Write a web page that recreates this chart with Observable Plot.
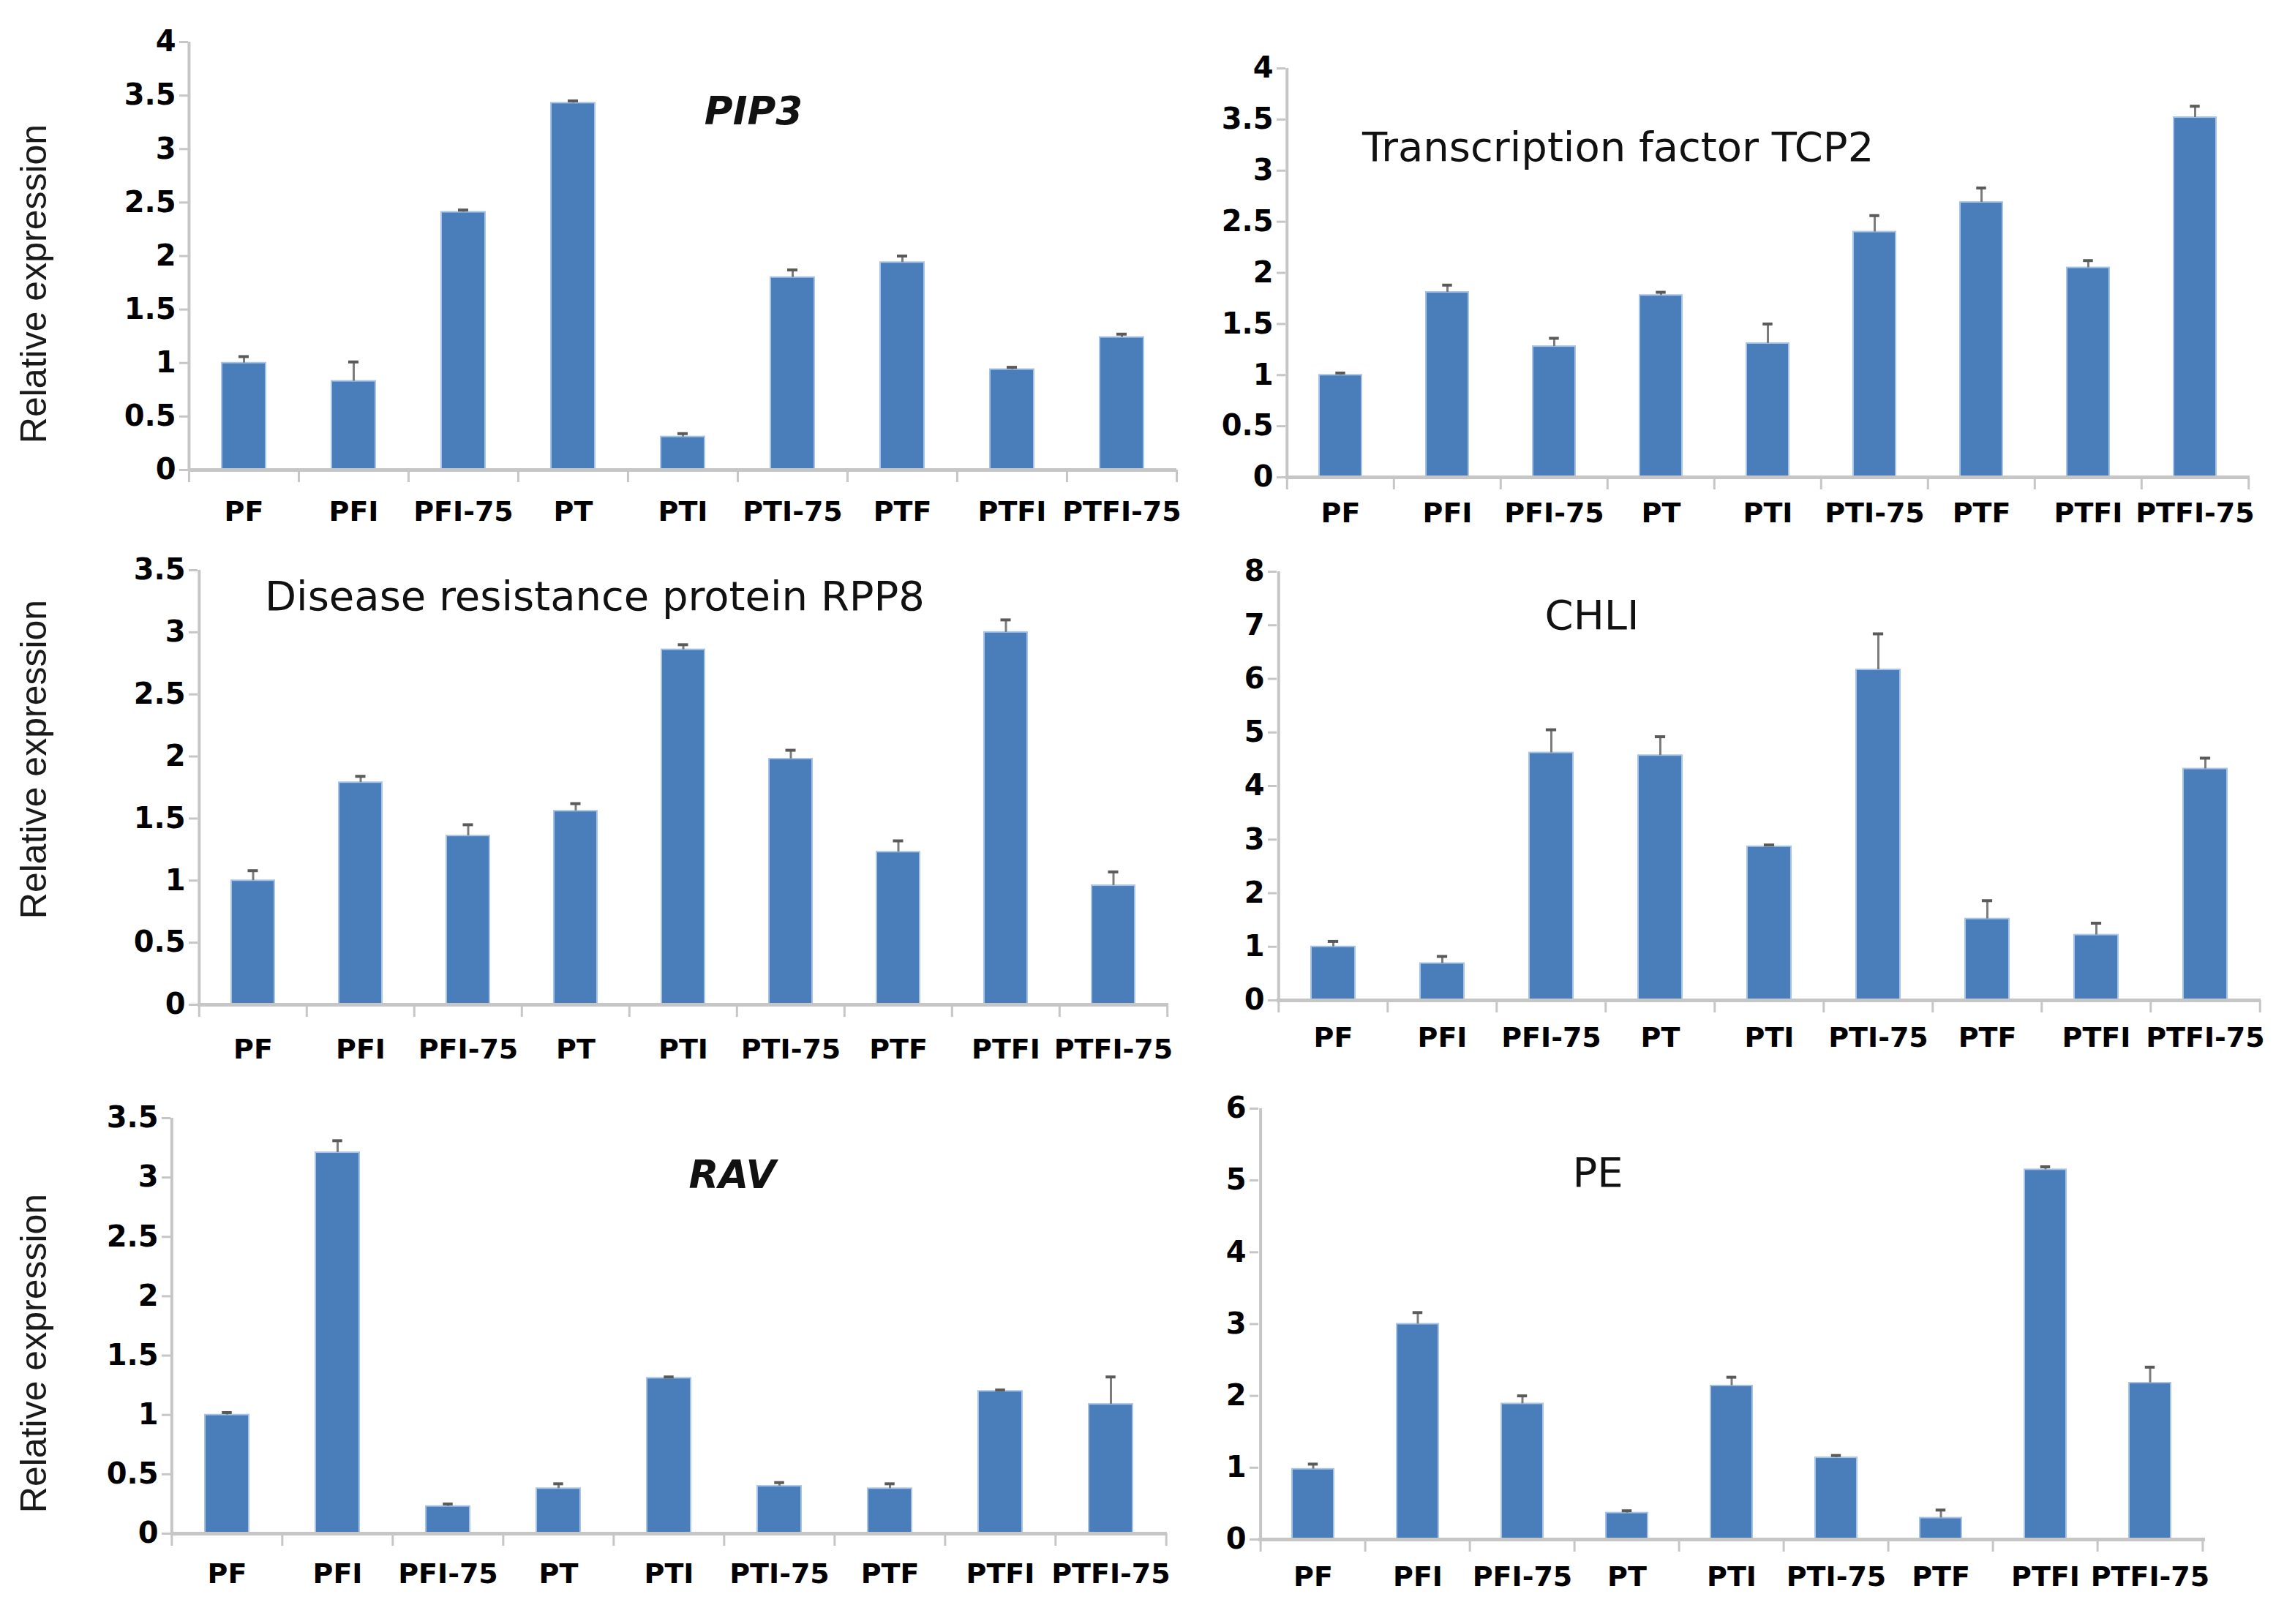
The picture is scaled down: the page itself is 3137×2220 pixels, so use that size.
<!DOCTYPE html>
<html><head><meta charset="utf-8">
<script src="https://cdn.jsdelivr.net/npm/d3@7"></script>
<script src="https://cdn.jsdelivr.net/npm/@observablehq/plot@0.6"></script>
<style>
html,body{margin:0;padding:0;background:#fff;}
#wrap{position:relative;width:3137px;height:2220px;overflow:hidden;background:#fff;}
.panel{position:absolute;}
#overlay{position:absolute;left:0;top:0;}
</style></head><body><div id="wrap"></div>
<script>
// ---- data ----
const categories = ["PF","PFI","PFI-75","PT","PTI","PTI-75","PTF","PTFI","PTFI-75"];

const pip3    = [1.00, 0.83, 2.41, 3.43, 0.31, 1.80, 1.94, 0.94, 1.24];
const pip3Err = [0.06, 0.18, 0.02, 0.02, 0.03, 0.07, 0.06, 0.02, 0.03];

const tcp2    = [1.00, 1.81, 1.28, 1.78, 1.31, 2.40, 2.69, 2.05, 3.52];
const tcp2Err = [0.02, 0.07, 0.08, 0.03, 0.19, 0.16, 0.14, 0.07, 0.11];

const rpp8    = [1.00, 1.79, 1.36, 1.56, 2.86, 1.98, 1.23, 3.00, 0.96];
const rpp8Err = [0.08, 0.05, 0.09, 0.06, 0.04, 0.07, 0.09, 0.10, 0.11];

const chli    = [1.00, 0.69, 4.62, 4.57, 2.87, 6.17, 1.52, 1.22, 4.32];
const chliErr = [0.10, 0.13, 0.43, 0.35, 0.03, 0.67, 0.34, 0.22, 0.20];

const rav     = [1.00, 3.21, 0.23, 0.38, 1.31, 0.40, 0.38, 1.20, 1.09];
const ravErr  = [0.02, 0.10, 0.02, 0.04, 0.01, 0.03, 0.04, 0.01, 0.23];

const pe      = [0.98, 3.00, 1.89, 0.37, 2.14, 1.14, 0.30, 5.15, 2.18];
const peErr   = [0.07, 0.16, 0.11, 0.03, 0.12, 0.03, 0.11, 0.04, 0.22];

const ticksHalf4   = [0, 0.5, 1, 1.5, 2, 2.5, 3, 3.5, 4];
const ticksHalf35  = [0, 0.5, 1, 1.5, 2, 2.5, 3, 3.5];
const ticksInt8    = [0, 1, 2, 3, 4, 5, 6, 7, 8];
const ticksInt6    = [0, 1, 2, 3, 4, 5, 6];

const yTitle = "Relative expression";

// ---- layout ----
const panels = [
  {title:"PIP3", geneStyle:true, values:pip3, errors:pip3Err, ticks:ticksHalf4,
   left:0, top:0, width:1620, height:740, mL:257, mR:12, mT:57, mB:98, labelBase:70,
   tx:1030, ty:170, anchor:"middle", yLabel:true, yLabelY:388},
  {title:"Transcription factor TCP2", geneStyle:false, values:tcp2, errors:tcp2Err, ticks:ticksHalf4,
   left:1620, top:0, width:1517, height:740, mL:137, mR:62, mT:93, mB:88, labelBase:62,
   tx:1862, ty:220, anchor:"start", yLabel:false},
  {title:"Disease resistance protein RPP8", geneStyle:false, values:rpp8, errors:rpp8Err, ticks:ticksHalf35,
   left:0, top:740, width:1620, height:740, mL:270, mR:23, mT:39, mB:107, labelBase:74,
   tx:362, ty:834, anchor:"start", yLabel:true, yLabelY:1038},
  {title:"CHLI", geneStyle:false, values:chli, errors:chliErr, ticks:ticksInt8,
   left:1620, top:740, width:1517, height:740, mL:125, mR:47, mT:41, mB:113, labelBase:64,
   tx:2176, ty:860, anchor:"middle", yLabel:false},
  {title:"RAV", geneStyle:true, values:rav, errors:ravErr, ticks:ticksHalf35,
   left:0, top:1480, width:1620, height:740, mL:233, mR:25, mT:48, mB:124, labelBase:68,
   tx:1001, ty:1624, anchor:"middle", yLabel:true, yLabelY:1850},
  {title:"PE", geneStyle:false, values:pe, errors:peErr, ticks:ticksInt6,
   left:1620, top:1480, width:1517, height:740, mL:100, mR:123, mT:35, mB:116, labelBase:64,
   tx:2184, ty:1622, anchor:"middle", yLabel:false}
];

const wrap = document.getElementById("wrap");
const gray = "#c6c6c6";

panels.forEach(cfg => {
  const data = categories.map((c, i) => ({cat: c, v: cfg.values[i], e: cfg.errors[i]}));
  const ymax = cfg.ticks[cfg.ticks.length - 1];
  const step = (cfg.width - cfg.mL - cfg.mR) / categories.length;
  const bw = step * 0.4;
  const capHalf = 7;
  const chart = Plot.plot({
    width: cfg.width, height: cfg.height,
    marginLeft: cfg.mL, marginRight: cfg.mR, marginTop: cfg.mT, marginBottom: cfg.mB,
    style: {fontFamily: "DejaVu Sans", background: "white", overflow: "visible"},
    x: {domain: categories, paddingInner: 0.6, paddingOuter: 0.3, axis: null, label: null},
    y: {domain: [0, ymax], axis: null, label: null},
    marks: [
      Plot.barY(data, {x: "cat", y: "v", fill: "#4a7ebb", stroke: "#a7c3e6", strokeWidth: 2}),
      Plot.ruleX(data, {x: "cat", y1: "v", y2: d => d.v + d.e, stroke: "#7c7c7c", strokeWidth: 3}),
      Plot.tickY(data, {x: "cat", y: d => d.v + d.e, stroke: "#5a5a5a", strokeWidth: 4,
                        insetLeft: bw / 2 - capHalf, insetRight: bw / 2 - capHalf}),
      Plot.ruleY([0], {stroke: gray, strokeWidth: 5}),
      Plot.ruleX([categories[0]], {x: d => d, y1: 0, y2: ymax, dx: -step / 2, stroke: gray, strokeWidth: 4}),
      Plot.axisY({ticks: cfg.ticks, tickSize: 12, tickPadding: 5, tickFormat: d => String(d), label: null,
                  stroke: gray, strokeWidth: 3, fill: "#000", fontSize: 40, fontWeight: "bold"}),
      Plot.axisX({ticks: categories, tickSize: 17, tickFormat: () => "", dx: -step / 2, label: null,
                  stroke: gray, strokeWidth: 3}),
      Plot.axisX({ticks: [categories[categories.length - 1]], tickSize: 17, tickFormat: () => "", label: null,
                  dx: step / 2, stroke: gray, strokeWidth: 3}),
      Plot.axisX({ticks: categories, tickSize: 0, tickPadding: cfg.labelBase - 27, label: null,
                  fill: "#000", fontSize: 38, fontWeight: "bold"})
    ]
  });
  const div = document.createElement("div");
  div.className = "panel";
  div.style.left = cfg.left + "px";
  div.style.top = cfg.top + "px";
  div.appendChild(chart);
  wrap.appendChild(div);
});

// ---- titles and y-axis titles ----
const NS = "http://www.w3.org/2000/svg";
const ov = document.createElementNS(NS, "svg");
ov.setAttribute("id", "overlay");
ov.setAttribute("width", 3137);
ov.setAttribute("height", 2220);
panels.forEach(cfg => {
  const t = document.createElementNS(NS, "text");
  t.setAttribute("x", cfg.tx);
  t.setAttribute("y", cfg.ty);
  t.setAttribute("text-anchor", cfg.anchor);
  t.setAttribute("font-family", "DejaVu Sans");
  t.setAttribute("fill", "#111");
  if (cfg.geneStyle) {
    t.setAttribute("font-size", 53);
    t.setAttribute("font-weight", "bold");
    t.setAttribute("font-style", "italic");
  } else {
    t.setAttribute("font-size", 56);
  }
  t.textContent = cfg.title;
  ov.appendChild(t);
  if (cfg.yLabel) {
    const yl = document.createElementNS(NS, "text");
    yl.setAttribute("transform", `translate(63,${cfg.yLabelY}) rotate(-90)`);
    yl.setAttribute("text-anchor", "middle");
    yl.setAttribute("font-family", "Liberation Sans, Arial, sans-serif");
    yl.setAttribute("font-size", 50);
    yl.setAttribute("fill", "#1a1a1a");
    yl.textContent = yTitle;
    ov.appendChild(yl);
  }
});
wrap.appendChild(ov);
</script>
</body></html>
